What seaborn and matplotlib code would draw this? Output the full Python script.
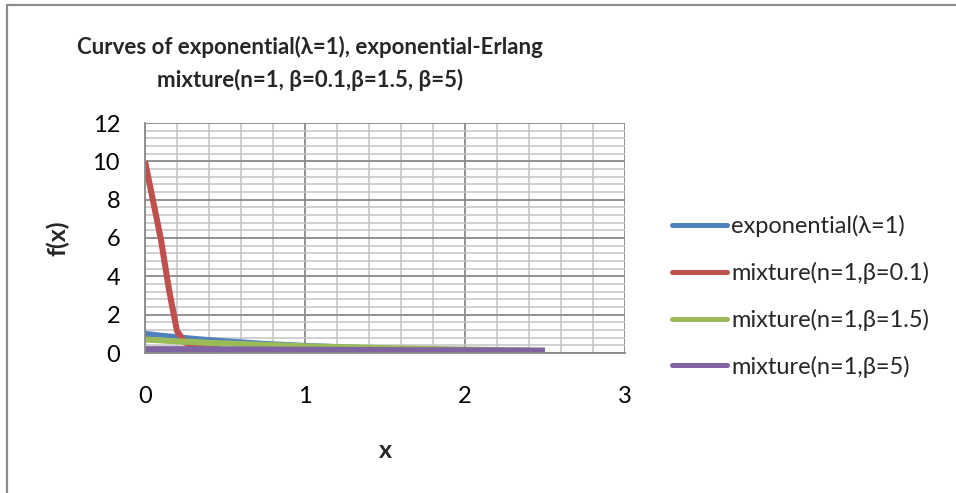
import numpy as np
import pandas as pd
import matplotlib
matplotlib.use("Agg")
import matplotlib.pyplot as plt
from matplotlib.ticker import MultipleLocator
from matplotlib.patches import Rectangle
import seaborn as sns

# ---- data ----
x_vals = [0, 0.05, 0.1, 0.15, 0.2, 0.25, 0.3, 0.4, 0.5, 0.75, 1.0, 1.25, 1.5, 1.75, 2.0, 2.25, 2.5]
exponential = [1.0, 0.95, 0.9, 0.86, 0.82, 0.78, 0.74, 0.67, 0.61, 0.47, 0.37, 0.29, 0.22, 0.17, 0.14, 0.11, 0.08]
mix_b01 = [10.0, 7.95, 5.9, 3.3, 1.15, 0.55, 0.4, 0.25, 0.15, 0.08, 0.05, 0.04, 0.03, 0.03, 0.02, 0.02, 0.02]
mix_b15 = [0.7, 0.68, 0.66, 0.63, 0.61, 0.59, 0.57, 0.53, 0.5, 0.42, 0.35, 0.3, 0.25, 0.21, 0.18, 0.15, 0.12]
mix_b5 = [0.2, 0.2, 0.2, 0.2, 0.2, 0.2, 0.2, 0.19, 0.19, 0.18, 0.17, 0.16, 0.15, 0.14, 0.14, 0.13, 0.12]

series_names = ["exponential(λ=1)", "mixture(n=1,β=0.1)", "mixture(n=1,β=1.5)", "mixture(n=1,β=5)"]
series_values = [exponential, mix_b01, mix_b15, mix_b5]
colors = ["#4F81BD", "#C0504D", "#9BBB59", "#8064A2"]

title = "Curves of exponential(λ=1), exponential-Erlang\nmixture(n=1, β=0.1,β=1.5, β=5)"
x_label = "x"
y_label = "f(x)"
x_ticks = [0, 1, 2, 3]
y_ticks = [0, 2, 4, 6, 8, 10, 12]

df = pd.DataFrame({
    "x": np.tile(x_vals, len(series_names)),
    "f": np.concatenate(series_values),
    "series": np.repeat(series_names, len(x_vals)),
})

sns.set_style("white")
plt.rcParams["font.family"] = ["Lato", "DejaVu Sans"]

fig = plt.figure(figsize=(9.56, 4.93), dpi=100)
W, H = 956, 493
ax = fig.add_axes([145 / W, 1 - 353 / H, 480 / W, 230 / H])

# outer chart border
fig.patches.append(Rectangle((7 / W, -0.1), 1.2, 1 - 5 / H + 0.1, transform=fig.transFigure,
                             fill=False, edgecolor="#8c8c8c", linewidth=1.6, zorder=0))

sns.lineplot(data=df, x="x", y="f", hue="series", hue_order=series_names,
             palette=colors, linewidth=4.4, ax=ax, legend=True, sort=False)
for ln in ax.lines:
    ln.set_solid_capstyle("butt")
    ln.set_solid_joinstyle("round")

ax.set_xlim(0, 3)
ax.set_ylim(0, 12)
ax.set_xticks(x_ticks)
ax.set_yticks(y_ticks)
ax.xaxis.set_minor_locator(MultipleLocator(0.2))
ax.yaxis.set_minor_locator(MultipleLocator(0.4))
ax.grid(which="major", color="#8a8a8a", linewidth=1.3)
ax.grid(which="minor", color="#c4c4c4", linewidth=1.1)
ax.set_axisbelow(True)
for s in ["top", "right"]:
    ax.spines[s].set_visible(False)
for s in ["left", "bottom"]:
    ax.spines[s].set_color("#8a8a8a")
    ax.spines[s].set_linewidth(1.3)
ax.tick_params(which="major", direction="out", length=6, width=1.3, color="#8a8a8a",
               labelsize=17, labelcolor="black")
ax.tick_params(axis="x", which="major", pad=18)
ax.tick_params(axis="y", which="major", pad=12)
ax.tick_params(which="minor", length=0)

ax.set_xlabel(x_label, fontsize=18, fontweight="bold")
ax.xaxis.set_label_coords((385 - 145) / 480, -(450 - 353) / 230)
ax.set_ylabel(y_label, fontsize=18, fontweight="bold")
ax.yaxis.set_label_coords((58 - 145) / 480, (353 - 238) / 230)
ax.xaxis.label.set_va("center")
ax.yaxis.label.set_va("center")

fig.text(310 / W, 1 - 87 / H, title, ha="center", va="baseline", fontsize=16,
         fontweight="bold", linespacing=1.58)

leg = ax.legend(loc="upper left", bbox_to_anchor=(672 / W, 1 - 215 / H),
                bbox_transform=fig.transFigure, frameon=False, fontsize=17,
                handlelength=2.33, handletextpad=0.17, labelspacing=1.05,
                borderpad=0, borderaxespad=0, title=None)
for h in leg.get_lines():
    h.set_linewidth(3.6)
    h.set_solid_capstyle("round")

fig.savefig("out.png", dpi=100)
